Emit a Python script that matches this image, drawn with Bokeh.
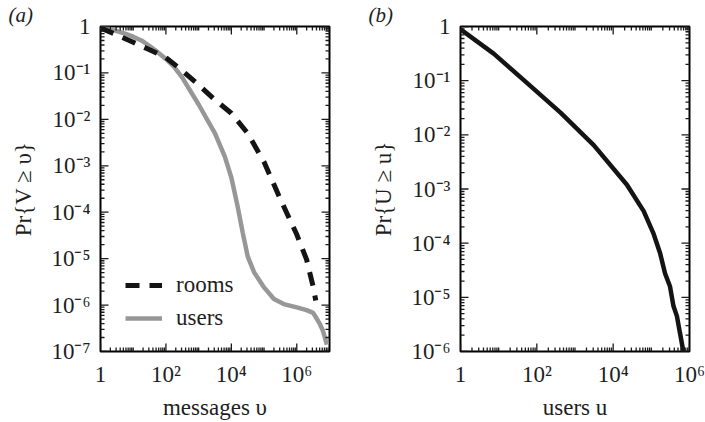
from bokeh.plotting import figure
from bokeh.models import (FixedTicker, CustomJSTickFormatter, Legend, LegendItem,
                          Range1d, Title)
from bokeh.layouts import row
from bokeh.embed import file_html
from bokeh.resources import INLINE

# ---------------- data ----------------
# panel (a): CCDF of messages per room / per user
rooms_v = [1, 3.16, 10, 31.6, 100, 316, 1000, 3160, 1.0e4, 3.16e4, 1.0e5, 3.16e5,
           1.0e6, 2.0e6, 3.16e6, 3.8e6]
rooms_p = [0.933, 0.661, 0.457, 0.316, 0.214, 0.112, 0.055, 0.0263, 0.0135, 0.005,
           0.0012, 1.9e-4, 3.3e-5, 9.5e-6, 2.5e-6, 1.26e-6]

users_v = [1, 2.0, 3.16, 5.6, 10, 17.8, 31.6, 56, 100, 178, 316, 1000, 3160, 6310,
           1.0e4, 1.58e4, 2.24e4, 3.16e4, 5.0e4, 1.0e5, 2.0e5, 4.0e5, 1.0e6, 2.0e6,
           3.16e6, 4.0e6, 5.0e6, 6.3e6, 8.3e6]
users_p = [0.955, 0.87, 0.794, 0.70, 0.603, 0.50, 0.380, 0.28, 0.200, 0.135, 0.0794,
           0.0209, 0.0050, 0.00158, 5.6e-4, 1.26e-4, 3.55e-5, 1.12e-5, 5.0e-6,
           2.4e-6, 1.35e-6, 1.05e-6, 8.9e-7, 7.8e-7, 6.8e-7, 5.2e-7, 4.0e-7, 2.8e-7,
           1.41e-7]

# panel (b): CCDF of users per room
room_users_u = [1, 7.4, 55, 417, 3090, 2.29e4, 6.3e4, 1.15e5, 1.7e5, 2.29e5, 3.09e5,
                3.8e5, 4.68e5, 5.6e5, 6.9e5, 7.4e5]
room_users_p = [0.89, 0.316, 0.0912, 0.0257, 0.00646, 0.0012, 3.9e-4, 1.48e-4,
                6.5e-5, 2.75e-5, 1.58e-5, 6.9e-6, 4.5e-6, 2.24e-6, 1.0e-6, 8e-7]

series_labels = ["rooms", "users"]
panel_labels = ["(a)", "(b)"]
x_titles = ["messages υ", "users u"]
y_titles = ["Pr{V ≥ υ}", "Pr{U ≥ u}"]

# ---------------- styling ----------------
FONT = "Liberation Serif"
FS = "23px"
TXT = "#1e1e1e"
FRAME_W, FRAME_H = 229, 330

FMT = CustomJSTickFormatter(code="""
const e = Math.round(Math.log10(tick));
if (e === 0) return "1";
const sup = {"-":"\\u207b","0":"\\u2070","1":"\\u00b9","2":"\\u00b2","3":"\\u00b3",
             "4":"\\u2074","5":"\\u2075","6":"\\u2076","7":"\\u2077","8":"\\u2078","9":"\\u2079"};
return "10" + String(e).split("").map(c => sup[c]).join("");
""")


def log_ticks(lo, hi, step):
    major = [10.0 ** k for k in range(lo, hi + 1, step)]
    minor = [m * 10.0 ** k for k in range(lo, hi) for m in range(1, 10)
             if not (m == 1 and (k - lo) % step == 0)]
    return major, minor


def style_axis(ax):
    ax.axis_line_color = None
    ax.major_tick_in = 0
    ax.major_tick_out = 0
    ax.minor_tick_in = 0
    ax.minor_tick_out = 0
    ax.formatter = FMT
    ax.major_label_text_font = FONT
    ax.major_label_text_font_size = FS
    ax.major_label_text_color = TXT
    ax.major_label_standoff = 10
    ax.axis_label_text_font = FONT
    ax.axis_label_text_font_size = FS
    ax.axis_label_text_font_style = "normal"
    ax.axis_label_text_color = TXT


def make_panel(width, xdec, ydec, mbr, xt, yt, label):
    p = figure(width=width, height=422, x_axis_type="log", y_axis_type="log",
               x_range=Range1d(1.0, 10.0 ** xdec), y_range=Range1d(10.0 ** (-ydec), 1.0),
               output_backend="svg", toolbar_location=None,
               min_border_left=100, min_border_right=mbr,
               min_border_top=23, min_border_bottom=68)
    p.grid.visible = False
    p.outline_line_color = "black"
    p.outline_line_width = 2
    xmaj, _ = log_ticks(0, xdec, 2)
    ymaj, _ = log_ticks(-ydec, 0, 1)
    p.xaxis.ticker = FixedTicker(ticks=xmaj, minor_ticks=[])
    p.yaxis.ticker = FixedTicker(ticks=ymaj, minor_ticks=[])
    style_axis(p.xaxis[0])
    style_axis(p.yaxis[0])
    p.xaxis.axis_label = xt
    p.yaxis.axis_label = yt
    p.xaxis.axis_label_standoff = 5
    p.yaxis.axis_label_standoff = 12
    p.title = Title(text=label, align="left", offset=-92, text_font=FONT,
                    text_font_size="21px", text_font_style="italic",
                    text_color=TXT, standoff=0)
    return p


def add_ticks(p, xdec, ydec):
    """Inward ticks on all four sides, drawn after the data lines."""
    x0, x1 = 1.0, 10.0 ** xdec
    y0, y1 = 10.0 ** (-ydec), 1.0
    xmaj, xmin_ = log_ticks(0, xdec, 2)
    ymaj, ymin_ = log_ticks(-ydec, 0, 1)
    ppd_x = FRAME_W / xdec
    ppd_y = FRAME_H / ydec
    kw = dict(line_color="#1a1a1a", line_width=1.3)
    for xs, L in ((xmaj, 8), (xmin_, 4)):
        n = len(xs)
        f = 10 ** (L / ppd_y)
        p.segment(x0=xs, y0=[y0] * n, x1=xs, y1=[y0 * f] * n, **kw)
        p.segment(x0=xs, y0=[y1] * n, x1=xs, y1=[y1 / f] * n, **kw)
    for ys, L in ((ymaj, 8), (ymin_, 4)):
        n = len(ys)
        f = 10 ** (L / ppd_x)
        p.segment(x0=[x0] * n, y0=ys, x1=[x0 * f] * n, y1=ys, **kw)
        p.segment(x0=[x1] * n, y0=ys, x1=[x1 / f] * n, y1=ys, **kw)


# ---------------- panel (a) ----------------
pa = make_panel(360, 7, 7, 31, x_titles[0], y_titles[0], panel_labels[0])
r_users = pa.line(users_v, users_p, line_color="#979797", line_width=4.5)
r_rooms = pa.line(rooms_v, rooms_p, line_color="#141414", line_width=5,
                  line_dash="14 10")
add_ticks(pa, 7, 7)
leg = Legend(items=[LegendItem(label=series_labels[0], renderers=[r_rooms]),
                    LegendItem(label=series_labels[1], renderers=[r_users])],
             location=(25, 20), padding=0, margin=0, spacing=7,
             glyph_width=37, glyph_height=26, label_height=26, label_standoff=14,
             label_text_font=FONT, label_text_font_size=FS, label_text_color=TXT,
             border_line_color=None, background_fill_alpha=0)
pa.add_layout(leg)

# ---------------- panel (b) ----------------
pb = make_panel(345, 6, 6, 16, x_titles[1], y_titles[1], panel_labels[1])
pb.line(room_users_u, room_users_p, line_color="#141414", line_width=4.5)
add_ticks(pb, 6, 6)

layout = row(pa, pb)
open("out.html", "w").write(file_html(layout, INLINE))
